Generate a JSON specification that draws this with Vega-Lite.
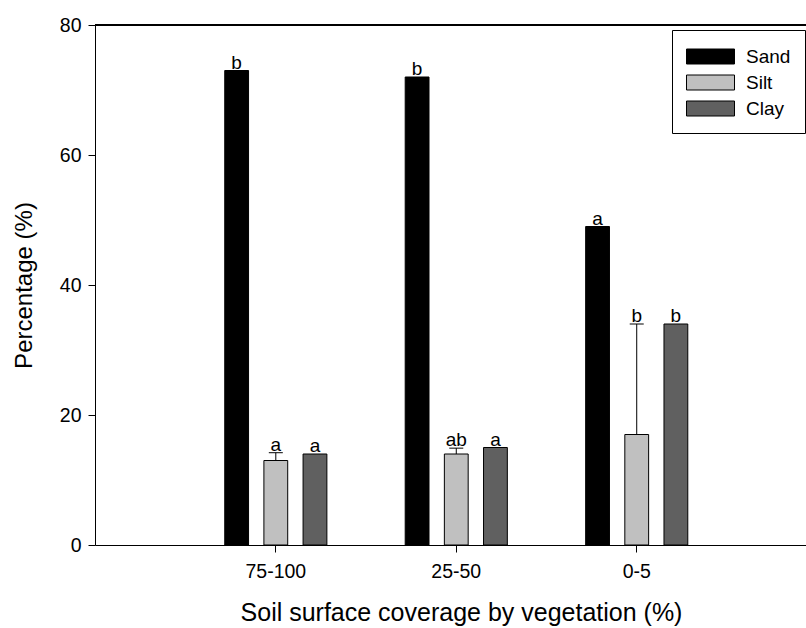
{
  "$schema": "https://vega.github.io/schema/vega-lite/v6.json",
  "width": 711,
  "height": 520,
  "autosize": {"type": "none"},
  "padding": {"left": 95, "top": 25, "right": 0, "bottom": 83},
  "background": "white",
  "config": {
    "view": {"stroke": null},
    "font": "Liberation Sans",
    "axis": {"domainColor": "black", "tickColor": "black", "labelColor": "black", "titleColor": "black", "titleFontWeight": "normal", "grid": false, "domainWidth": 1, "tickWidth": 1}
  },
  "data": {"values": [
    {"cover": "75-100", "type": "Sand", "value": 73, "upper": 73, "letter": "b"},
    {"cover": "75-100", "type": "Silt", "value": 13, "upper": 14.2, "letter": "a"},
    {"cover": "75-100", "type": "Clay", "value": 14, "upper": 14, "letter": "a"},
    {"cover": "25-50", "type": "Sand", "value": 72, "upper": 72, "letter": "b"},
    {"cover": "25-50", "type": "Silt", "value": 14, "upper": 14.9, "letter": "ab"},
    {"cover": "25-50", "type": "Clay", "value": 15, "upper": 15, "letter": "a"},
    {"cover": "0-5", "type": "Sand", "value": 49, "upper": 49, "letter": "a"},
    {"cover": "0-5", "type": "Silt", "value": 17, "upper": 34, "letter": "b"},
    {"cover": "0-5", "type": "Clay", "value": 34, "upper": 34, "letter": "b"}
  ]},
  "layer": [
    {
      "mark": {"type": "bar", "stroke": "black", "strokeWidth": 1},
      "encoding": {
        "x": {"field": "cover", "type": "nominal", "sort": ["75-100", "25-50", "0-5"],
          "scale": {"paddingInner": 0, "paddingOuter": 0.47, "align": 0.534},
          "axis": {"labelAngle": 0, "labelFontSize": 19.5, "tickSize": 7, "labelPadding": 10, "title": "Soil surface coverage by vegetation (%)", "titleFontSize": 25, "titlePadding": 20, "titleX": 366}},
        "xOffset": {"field": "type", "type": "nominal", "sort": ["Sand", "Silt", "Clay"],
          "scale": {"paddingInner": 0.392, "paddingOuter": 1.1886}},
        "y": {"field": "value", "type": "quantitative", "scale": {"domain": [0, 80], "nice": false},
          "axis": {"values": [0, 20, 40, 60, 80], "tickSize": 7, "labelFontSize": 19.5, "labelPadding": 7, "title": "Percentage (%)", "titleFontSize": 24, "titlePadding": 23}},
        "color": {"field": "type", "type": "nominal", "sort": ["Sand", "Silt", "Clay"],
          "scale": {"domain": ["Sand", "Silt", "Clay"], "range": ["#000000", "#c0c0c0", "#606060"]},
          "legend": {"title": null, "orient": "none", "legendX": 577, "legendY": 5, "strokeColor": "black", "padding": 14,
            "symbolType": "M-1,-0.625H3V0.625H-1Z", "symbolSize": 576, "symbolStrokeColor": "black", "symbolStrokeWidth": 1,
            "symbolOpacity": 1, "labelFontSize": 19, "labelOffset": 35, "labelColor": "black", "rowPadding": 3}}
      }
    },
    {
      "transform": [{"filter": "datum.type == 'Silt'"}],
      "mark": {"type": "rule", "color": "black", "strokeWidth": 1},
      "encoding": {
        "x": {"field": "cover", "type": "nominal", "sort": ["75-100", "25-50", "0-5"]},
        "xOffset": {"field": "type", "type": "nominal", "sort": ["Sand", "Silt", "Clay"]},
        "y": {"field": "value", "type": "quantitative"},
        "y2": {"field": "upper"}
      }
    },
    {
      "transform": [{"filter": "datum.type == 'Silt'"}],
      "mark": {"type": "tick", "orient": "horizontal", "size": 14, "thickness": 1, "color": "black", "opacity": 1},
      "encoding": {
        "x": {"field": "cover", "type": "nominal", "sort": ["75-100", "25-50", "0-5"]},
        "xOffset": {"field": "type", "type": "nominal", "sort": ["Sand", "Silt", "Clay"]},
        "y": {"field": "upper", "type": "quantitative"}
      }
    },
    {
      "mark": {"type": "text", "baseline": "alphabetic", "dy": -2, "fontSize": 19, "color": "black"},
      "encoding": {
        "x": {"field": "cover", "type": "nominal", "sort": ["75-100", "25-50", "0-5"]},
        "xOffset": {"field": "type", "type": "nominal", "sort": ["Sand", "Silt", "Clay"]},
        "y": {"field": "upper", "type": "quantitative"},
        "text": {"field": "letter"}
      }
    },
    {
      "mark": {"type": "rule", "color": "black", "strokeWidth": 1},
      "encoding": {
        "y": {"datum": 80, "type": "quantitative"}
      }
    }
  ]
}
